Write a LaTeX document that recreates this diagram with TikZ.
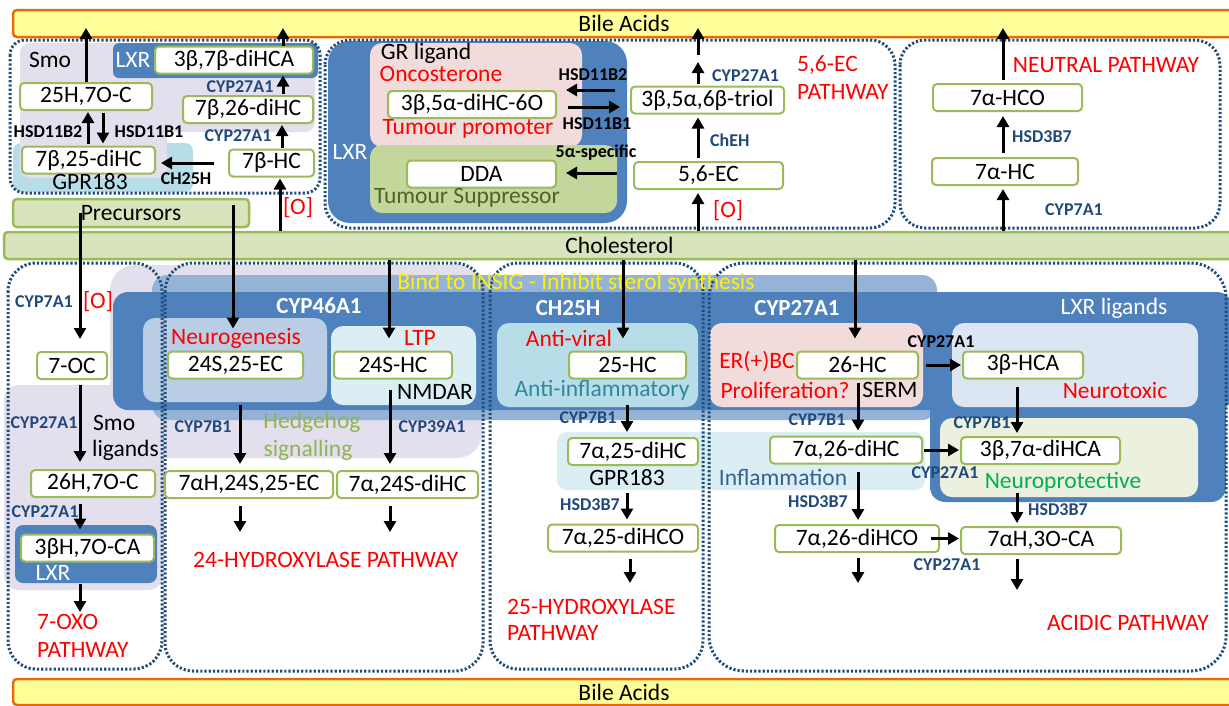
\documentclass[tikz,border=0pt]{standalone}
\usepackage{fontspec}
\setmainfont{Carlito}
\usetikzlibrary{arrows.meta}
\definecolor{ngreen}{HTML}{9BBB59}
\definecolor{cholfill}{HTML}{D7E4BD}
\definecolor{bilefill}{HTML}{FFFF99}
\definecolor{bileline}{HTML}{E46C0A}
\definecolor{dblue}{HTML}{4F81BD}
\definecolor{mblue}{HTML}{95B3D7}
\definecolor{lav}{HTML}{E4DFEC}
\definecolor{cyanA}{HTML}{B7DEE8}
\definecolor{cyanB}{HTML}{DAEEF3}
\definecolor{neuro}{HTML}{B9CDE5}
\definecolor{ltpc}{HTML}{DBEEF4}
\definecolor{pinkb}{HTML}{F2DCDB}
\definecolor{greenb}{HTML}{C3D69B}
\definecolor{lxrl}{HTML}{DCE6F2}
\definecolor{npro}{HTML}{EBF1DE}
\definecolor{enzc}{HTML}{1F497D}
\definecolor{dotc}{HTML}{1F4E79}
\definecolor{redt}{HTML}{FF0000}
\definecolor{olivet}{HTML}{4F6228}
\definecolor{tealt}{HTML}{31859C}
\definecolor{hedge}{HTML}{8EB454}
\definecolor{npgreen}{HTML}{00B050}
\definecolor{inflc}{HTML}{366092}
\newcommand\fsz[1]{\fontsize{#1}{#1}\selectfont}
\tikzset{
  mol/.style={draw=ngreen, line width=2pt, fill=white, rounded corners=4pt, inner sep=0pt, minimum height=27pt, font=\fsz{23.5}},
  lab/.style={inner sep=0pt, font=\fsz{23.5}},
  redl/.style={lab, text=redt},
  wlab/.style={lab, text=white},
  wbold/.style={lab, text=white, font=\fsz{23}\bfseries},
  enz/.style={inner sep=0pt, font=\fsz{18}\bfseries, text=enzc},
  enzk/.style={enz, text=black},
  arr/.style={line width=3pt, -{Triangle[length=11pt,width=12pt]}},
  dotbox/.style={draw=dotc, line width=3pt, dash pattern=on 2.2pt off 2pt},
  barg/.style={draw=ngreen, fill=cholfill, line width=2.5pt, rounded corners=4pt, inner sep=0pt, font=\fsz{23.5}},
  bary/.style={draw=bileline, fill=bilefill, line width=2.5pt, rounded corners=4pt, inner sep=0pt, font=\fsz{23.5}}
}
\begin{document}
\begin{tikzpicture}[x=1pt,y=-1pt]
\useasboundingbox (0,0) rectangle (1229,705);
\fill[white] (0,0) rectangle (1229,705);

% ---------- background regions ----------
% top-left
\fill[cyanA, rounded corners=8pt] (13,143) rectangle (193,192);
\fill[lav, rounded corners=10pt] (20,43) rectangle (315,132);
\fill[lav, rounded corners=10pt] (20,100) rectangle (167,178);
\fill[dblue, rounded corners=6pt] (113,43) rectangle (318,78);
% top-middle
\fill[dblue, rounded corners=22pt] (328,41) rectangle (627,223);
\fill[pinkb, rounded corners=12pt] (370,43) rectangle (582,147);
\fill[greenb, rounded corners=12pt] (370,145) rectangle (617,213);
% lower
\fill[lav, rounded corners=25pt] (110,265) rectangle (482,458);
\fill[lav, rounded corners=15pt] (4,385) rectangle (163,590);
\fill[mblue, rounded corners=15pt] (152,275) rectangle (937,420);
\fill[dblue, rounded corners=15pt] (113,292) rectangle (1232,410);
\fill[dblue, rounded corners=15pt] (930,398) rectangle (1226,502);
\fill[neuro, rounded corners=12pt] (143,318) rectangle (327,402);
\fill[ltpc, rounded corners=12pt] (331,326) rectangle (476,405);
\fill[cyanA, rounded corners=12pt] (497,323) rectangle (698,407);
\fill[pinkb, rounded corners=12pt] (710,323) rectangle (923,407);
\fill[lxrl, rounded corners=12pt] (952,323) rectangle (1198,407);
\fill[npro, rounded corners=12pt] (940,418) rectangle (1198,497);
\fill[cyanB, rounded corners=10pt] (557,432) rectangle (925,490);
\fill[dblue, rounded corners=8pt] (15,525) rectangle (157,583);

% ---------- dotted pathway boxes ----------
\draw[dotbox, rounded corners=15pt] (10,40) rectangle (320,193);
\draw[dotbox, rounded corners=25pt] (325,40) rectangle (895,228);
\draw[dotbox, rounded corners=25pt] (900,40) rectangle (1220,228);
\draw[dotbox, rounded corners=28pt] (8,263) rectangle (162,669);
\draw[dotbox, rounded corners=28pt] (165,263) rectangle (483,671);
\draw[dotbox, rounded corners=28pt] (490,263) rectangle (703,669);
\draw[dotbox, rounded corners=35pt] (709,263) rectangle (1226,671);

% ---------- bars ----------
\node[bary, minimum width=1222pt, minimum height=27pt] (bileTop) at (624,23.5) {Bile Acids};
\node[bary, minimum width=1222pt, minimum height=26pt] (bileBot) at (624,692) {Bile Acids};
\node[barg, minimum width=1231pt, minimum height=27pt] (chol) at (619.5,245.5) {Cholesterol};
\node[barg, minimum width=236pt, minimum height=28pt] (prec) at (131,213) {Precursors};

% ---------- molecule nodes ----------
\node[mol, minimum width=158pt] (n3b7bdiHCA) at (234,60) {3β,7β-diHCA};
\node[mol, minimum width=132pt] (n25H7OC) at (86,96.5) {25H,7O-C};
\node[mol, minimum width=130pt] (n7b26diHC) at (248,109.5) {7β,26-diHC};
\node[mol, minimum width=133pt] (n7b25diHC) at (88.5,160) {7β,25-diHC};
\node[mol, minimum width=85pt] (n7bHC) at (271.5,163) {7β-HC};

\node[mol, minimum width=168pt] (n3b5adiHC6O) at (472,104.5) {3β,5α-diHC-6O};
\node[mol, minimum width=149pt] (nDDA) at (481.5,174) {DDA};
\node[mol, minimum width=153pt] (ntriol) at (707.5,100) {3β,5α,6β-triol};
\node[mol, minimum width=149pt] (n56EC) at (708.5,175.5) {5,6-EC};

\node[mol, minimum width=149pt] (n7aHCO) at (1007.5,97.5) {7α-HCO};
\node[mol, minimum width=146pt] (n7aHC) at (1005,171.5) {7α-HC};

\node[mol, minimum width=70pt] (n7OC) at (72,365.5) {7-OC};
\node[mol, minimum width=135pt] (n24S25EC) at (235.5,365) {24S,25-EC};
\node[mol, minimum width=118pt] (n24SHC) at (393,365) {24S-HC};
\node[mol, minimum width=117pt] (n25HC) at (627.5,365) {25-HC};
\node[mol, minimum width=121pt] (n26HC) at (857.5,365) {26-HC};
\node[mol, minimum width=120pt] (n3bHCA) at (1023,365) {3β-HCA};
\node[mol, minimum width=124pt] (n26H7OC) at (93,483.5) {26H,7O-C};
\node[mol, minimum width=168pt] (n7aH24S25EC) at (249,484.5) {7αH,24S,25-EC};
\node[mol, minimum width=141pt] (n7a24SdiHC) at (407.5,484.5) {7α,24S-diHC};
\node[mol, minimum width=130pt] (n7a25diHC) at (633,451.5) {7α,25-diHC};
\node[mol, minimum width=152pt] (n7a26diHC) at (846,450) {7α,26-diHC};
\node[mol, minimum width=159pt] (n3b7adiHCA) at (1040.5,450.5) {3β,7α-diHCA};
\node[mol, minimum width=133pt] (n3bH7OCA) at (87.5,548) {3βH,7O-CA};
\node[mol, minimum width=150pt] (n7a25diHCO) at (623,538) {7α,25-diHCO};
\node[mol, minimum width=164pt] (n7a26diHCO) at (857,538.5) {7α,26-diHCO};
\node[mol, minimum width=160pt] (n7aH3OCA) at (1041,540.5) {7αH,3O-CA};

% ---------- labels: top-left ----------
\node[lab] (tSmo) at (50,60) {Smo};
\node[wlab] (tLXR1) at (133,60) {LXR};
\node[enz] (eA) at (240,87) {CYP27A1};
\node[enzk] (eB) at (48,132) {HSD11B2};
\node[enzk] (eC) at (149,132) {HSD11B1};
\node[enz] (eD) at (238,136) {CYP27A1};
\node[lab] (tGPR1) at (90,182) {GPR183};
\node[enzk] (eE) at (186,179) {CH25H};
\node[redl] (tO1) at (298,208) {[O]};

% ---------- labels: top-middle ----------
\node[wlab] (tLXR2) at (350,152) {LXR};
\node[lab] (tGR) at (426,53) {GR ligand};
\node[redl] (tOnc) at (441,74) {Oncosterone};
\node[redl] (tTP) at (468,129) {Tumour promoter};
\node[lab, text=olivet] (tTS) at (467,198) {Tumour Suppressor};
\node[enzk] (eF) at (593,75) {HSD11B2};
\node[enzk] (eG) at (597,124) {HSD11B1};
\node[enzk] (eH) at (596,153) {5α-specific};
\node[enz, anchor=west] (eI) at (712,76) {CYP27A1};
\node[enz, anchor=west] (eJ) at (710,140) {ChEH};
\node[redl, anchor=west] (tO2) at (713,211) {[O]};
\node[redl, anchor=west] (t56a) at (797,65) {5,6-EC};
\node[redl, anchor=west] (t56b) at (797,92) {PATHWAY};

% ---------- labels: neutral ----------
\node[redl] (tNeu) at (1106,65) {NEUTRAL PATHWAY};
\node[enz, anchor=west] (eK) at (1012,137) {HSD3B7};
\node[enz, anchor=west] (eL) at (1045,210) {CYP7A1};

% ---------- labels: middle band ----------
\node[lab, text=yellow] (tInsig) at (576,283) {Bind to INSIG - Inhibit sterol synthesis};
\node[wbold] (tC46) at (319,306) {CYP46A1};
\node[redl] (tNeuro) at (236,338) {Neurogenesis};
\node[redl] (tLTP) at (420,338) {LTP};
\node[lab] (tNMDAR) at (435,392) {NMDAR};
\node[wbold] (tCH) at (568,308) {CH25H};
\node[redl] (tAV) at (569,338) {Anti-viral};
\node[lab, text=tealt] (tAI) at (602,390) {Anti-inflammatory};
\node[wbold] (tC27) at (797,308) {CYP27A1};
\node[redl] (tER) at (757,362) {ER(+)BC};
\node[redl] (tProl) at (785,390) {Proliferation?};
\node[lab] (tSERM) at (890,390) {SERM};
\node[enzk] (eM) at (941,342) {CYP27A1};
\node[wlab] (tLXRl) at (1114,308) {LXR ligands};
\node[redl] (tNtox) at (1115,390) {Neurotoxic};

% ---------- labels: lower ----------
\node[enz] (eN) at (982,423) {CYP7B1};
\node[enz] (eO) at (945,473) {CYP27A1};
\node[lab, text=npgreen] (tNpro) at (1063,482) {Neuroprotective};
\node[enz] (eP) at (1058,510) {HSD3B7};
\node[enz] (eQ) at (947,565) {CYP27A1};
\node[redl] (tAcid) at (1128,623) {ACIDIC PATHWAY};
\node[enz] (eR) at (817,420) {CYP7B1};
\node[lab, text=inflc] (tInfl) at (783,477) {Inflammation};
\node[enz] (eS) at (818,502) {HSD3B7};
\node[enz] (eT) at (588,418) {CYP7B1};
\node[lab] (tGPR2) at (627,478) {GPR183};
\node[enz] (eU) at (590,505) {HSD3B7};
\node[redl, anchor=west] (t25a) at (507,607) {25-HYDROXYLASE};
\node[redl, anchor=west] (t25b) at (507,633) {PATHWAY};
\node[enz] (eV) at (203,427) {CYP7B1};
\node[lab, text=hedge] (tHh1) at (312,422) {Hedgehog};
\node[lab, text=hedge] (tHh2) at (308,450) {signalling};
\node[enz] (eW) at (432,427) {CYP39A1};
\node[redl, anchor=west] (t24) at (193,560) {24-HYDROXYLASE PATHWAY};
\node[enz] (eX) at (44,302) {CYP7A1};
\node[redl] (tO3) at (98,302) {[O]};
\node[enz] (eY) at (44,423) {CYP27A1};
\node[lab, anchor=west] (tSmo2) at (93,423) {Smo};
\node[lab, anchor=west] (tLig) at (92,450) {ligands};
\node[enz] (eZ) at (45,512) {CYP27A1};
\node[wlab] (tLXR3) at (53,573) {LXR};
\node[redl, anchor=west] (t7a) at (37,622) {7-OXO};
\node[redl, anchor=west] (t7b) at (37,650) {PATHWAY};

% ---------- free-end coordinates ----------
\coordinate (tipTop) at (0,28);
\coordinate (p2) at (233,205);
\coordinate (c1) at (698,62);
\coordinate (c2) at (698,55);
\coordinate (e1) at (80,612);
\coordinate (e2) at (240,532);
\coordinate (e3) at (390,532);
\coordinate (e4) at (630,583);
\coordinate (e5) at (858,583);
\coordinate (e6) at (1017,590);

% ---------- arrows: top-left ----------
\draw[arr] (n25H7OC.north) -- (n25H7OC.north |- tipTop);
\draw[arr] (283,0 |- n3b7bdiHCA.north) -- (283,0 |- tipTop);
\draw[arr, shorten <=1pt, shorten >=1pt] (283,0 |- n7b26diHC.north) -- (283,0 |- n3b7bdiHCA.south);
\draw[arr, shorten <=1pt, shorten >=1pt] (282,0 |- n7bHC.north) -- (282,0 |- n7b26diHC.south);
\draw[arr, shorten <=2pt, shorten >=1pt] (88,0 |- n7b25diHC.north) -- (88,0 |- n25H7OC.south);
\draw[arr, shorten <=2pt, shorten >=2pt] (103,0 |- n25H7OC.south) -- (103,0 |- n7b25diHC.north);
\draw[arr, shorten <=14pt, shorten >=5pt] (n7bHC.west) -- (n7b25diHC.east |- n7bHC.west);
\draw[arr, shorten >=1pt] (280,0 |- chol.north) -- (280,0 |- n7bHC.south);
% precursors
\draw[arr, shorten >=12pt] (80,0 |- prec.center) -- (80,0 |- n7OC.north);
\draw[arr, shorten >=22pt] (p2) -- (233,0 |- n24S25EC.north);
% cholesterol
\draw[arr, shorten >=12pt] (389,0 |- chol.south) -- (389,0 |- n24SHC.north);
\draw[arr, shorten >=12pt] (623,0 |- chol.south) -- (623,0 |- n25HC.north);
\draw[arr, shorten >=12pt] (855,0 |- chol.south) -- (855,0 |- n26HC.north);

% ---------- arrows: top-middle ----------
\draw[arr, shorten <=15pt, shorten >=9pt] ([yshift=10pt]ntriol.west) -- ([yshift=10pt]ntriol.west -| n3b5adiHC6O.east);
\draw[arr, shorten <=11pt, shorten >=10pt] ([yshift=-2.5pt]n3b5adiHC6O.east) -- ([yshift=-2.5pt]n3b5adiHC6O.east -| ntriol.west);
\draw[arr, shorten <=16pt, shorten >=9pt] ([yshift=2.5pt]n56EC.west) -- ([yshift=2.5pt]n56EC.west -| nDDA.east);
\draw[arr, shorten >=3pt] (698,0 |- chol.north) -- (698,0 |- n56EC.south);
\draw[arr, shorten <=3pt, shorten >=3pt] (698,0 |- n56EC.north) -- (698,0 |- ntriol.south);
\draw[arr, shorten <=2pt] (698,0 |- ntriol.north) -- (c1);
\draw[arr] (c2) -- (698,0 |- tipTop);

% ---------- arrows: neutral ----------
\draw[arr, shorten >=3pt] (1003,0 |- chol.north) -- (1003,0 |- n7aHC.south);
\draw[arr, shorten <=4pt, shorten >=4pt] (1003,0 |- n7aHC.north) -- (1003,0 |- n7aHCO.south);
\draw[arr, shorten <=3pt] (1003,0 |- n7aHCO.north) -- (1003,0 |- tipTop);

% ---------- arrows: lower ----------
\draw[arr, shorten <=5pt, shorten >=7pt] (80,0 |- n7OC.south) -- (80,0 |- n26H7OC.north);
\draw[arr, shorten <=6pt, shorten >=4pt] (80,0 |- n26H7OC.south) -- (80,0 |- n3bH7OCA.north);
\draw[arr, shorten <=21pt] (80,0 |- n3bH7OCA.south) -- (e1);
\draw[arr, shorten <=25pt, shorten >=6pt] (240,0 |- n24S25EC.south) -- (240,0 |- n7aH24S25EC.north);
\draw[arr, shorten <=10pt, shorten >=6pt] (390,0 |- n24SHC.south) -- (390,0 |- n7a24SdiHC.north);
\draw[arr, shorten <=7pt] (240,0 |- n7aH24S25EC.south) -- (e2);
\draw[arr, shorten <=7pt] (390,0 |- n7a24SdiHC.south) -- (e3);
\draw[arr, shorten <=25pt, shorten >=5pt] (627,0 |- n25HC.south) -- (627,0 |- n7a25diHC.north);
\draw[arr, shorten <=27pt, shorten >=4pt] (627,0 |- n7a25diHC.south) -- (627,0 |- n7a25diHCO.north);
\draw[arr, shorten <=6pt] (630,0 |- n7a25diHCO.south) -- (e4);
\draw[arr, shorten <=3pt, shorten >=5pt] (858,0 |- n26HC.south) -- (858,0 |- n7a26diHC.north);
\draw[arr, shorten <=7pt, shorten >=4pt] (858,0 |- n7a26diHC.south) -- (858,0 |- n7a26diHCO.north);
\draw[arr, shorten <=5pt] (858,0 |- n7a26diHCO.south) -- (e5);
\draw[arr, shorten <=7pt, shorten >=1pt] (n26HC.east) -- (n3bHCA.west);
\draw[arr, shorten <=7pt, shorten >=3pt] (1017,0 |- n3bHCA.south) -- (1017,0 |- n3b7adiHCA.north);
\draw[arr, shorten <=1pt, shorten >=1pt] (n7a26diHC.east) -- (n3b7adiHCA.west |- n7a26diHC.east);
\draw[arr, shorten <=28pt, shorten >=3pt] (1017,0 |- n3b7adiHCA.south) -- (1017,0 |- n7aH3OCA.north);
\draw[arr, shorten <=-9pt, shorten >=1pt] (n7a26diHCO.east) -- (n7aH3OCA.west |- n7a26diHCO.east);
\draw[arr, shorten <=4pt] (1017,0 |- n7aH3OCA.south) -- (e6);
\end{tikzpicture}
\end{document}
